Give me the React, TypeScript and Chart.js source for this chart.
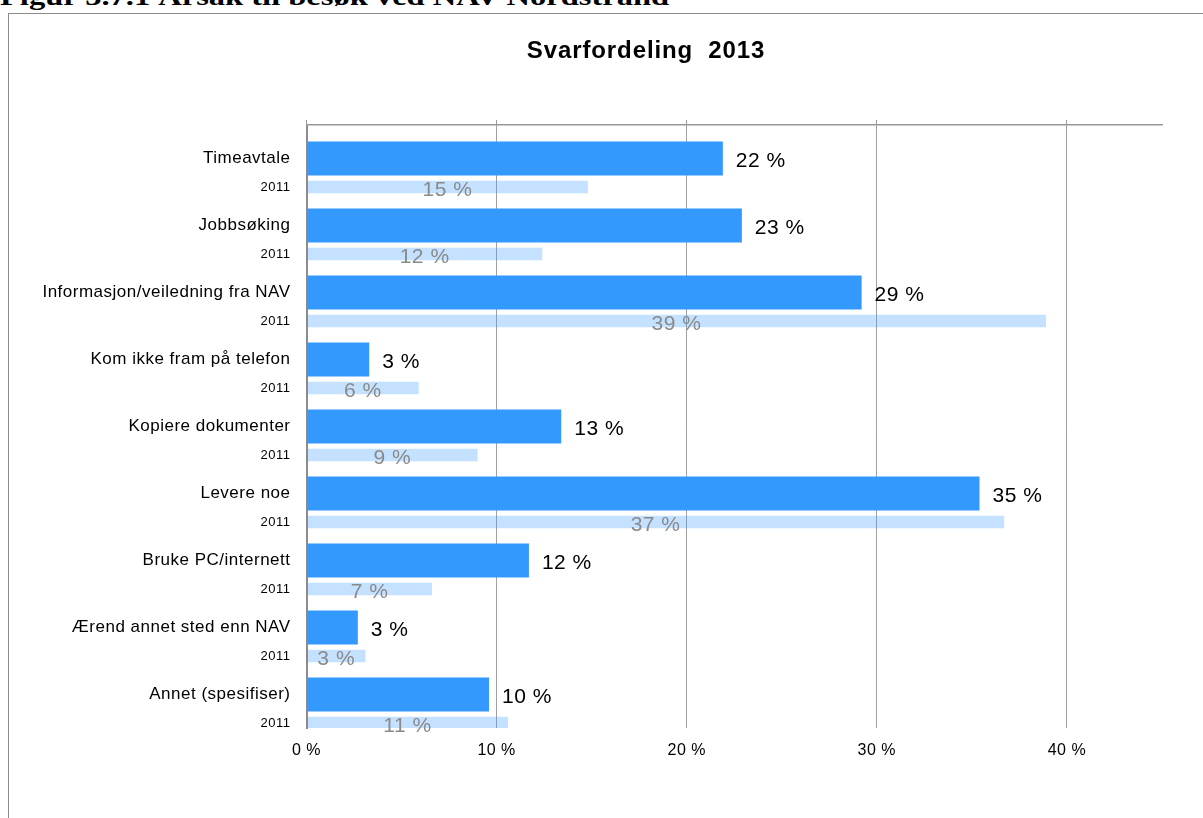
import React, { useEffect, useRef } from "react";
import { Chart, registerables } from "chart.js";

Chart.register(...registerables);

// ---- data ----
const categories = [
  "Timeavtale",
  "Jobbsøking",
  "Informasjon/veiledning fra NAV",
  "Kom ikke fram på telefon",
  "Kopiere dokumenter",
  "Levere noe",
  "Bruke PC/internett",
  "Ærend annet sted enn NAV",
  "Annet (spesifiser)",
];
const values2013 = [21.9, 22.9, 29.2, 3.3, 13.4, 35.4, 11.7, 2.7, 9.6];
const values2011 = [14.8, 12.4, 38.9, 5.9, 9.0, 36.7, 6.6, 3.1, 10.6];
const compareLabel = "2011";
const chartTitle = "Svarfordeling  2013";
const figureCaption = "Figur 3.7.1 Årsak til besøk ved NAV Nordstrand";
const axisMin = 0;
const axisMax = 45;
const axisStep = 10;

const FONT = "'Liberation Sans', Arial, Helvetica, sans-serif";
const SPACING = "0.5px";

const fmt = (v: number) => `${Math.round(v)} %`;

const spacingPlugin = {
  id: "letterSpacing",
  beforeUpdate(chart: any) {
    chart.ctx.letterSpacing = SPACING;
  },
  beforeDraw(chart: any) {
    chart.ctx.letterSpacing = SPACING;
  },
};

const labelPlugin = {
  id: "barLabels",
  afterDatasetsDraw(chart: any) {
    const ctx = chart.ctx as CanvasRenderingContext2D;
    const dark = chart.getDatasetMeta(1);
    const light = chart.getDatasetMeta(2);
    ctx.save();
    (ctx as any).letterSpacing = SPACING;
    ctx.textBaseline = "middle";
    dark.data.forEach((bar: any, i: number) => {
      ctx.font = `21px ${FONT}`;
      ctx.fillStyle = "#000000";
      ctx.textAlign = "left";
      ctx.fillText(fmt(values2013[i]), bar.x + 13, bar.y + 3);
    });
    light.data.forEach((bar: any, i: number) => {
      ctx.font = `21px ${FONT}`;
      ctx.fillStyle = "#8a8a8a";
      ctx.textAlign = "center";
      ctx.fillText(fmt(values2011[i]), (bar.x + bar.base) / 2, bar.y + 3);
      ctx.font = `13px ${FONT}`;
      ctx.fillStyle = "#000000";
      ctx.textAlign = "right";
      ctx.fillText(compareLabel, chart.chartArea.left - 16, bar.y);
    });
    ctx.restore();
  },
};

function BarChart() {
  const ref = useRef<HTMLCanvasElement | null>(null);
  useEffect(() => {
    if (!ref.current) return;
    const chart = new Chart(ref.current, {
      type: "bar",
      data: {
        labels: categories,
        datasets: [
          {
            label: "spacer",
            data: categories.map(() => null),
            backgroundColor: "rgba(0,0,0,0)",
            categoryPercentage: 1.276,
            barPercentage: 1,
          },
          {
            label: "2013",
            data: values2013,
            backgroundColor: "#3399ff",
            borderWidth: 0,
            categoryPercentage: 1.276,
            barPercentage: 1.19,
          },
          {
            label: "2011",
            data: values2011,
            backgroundColor: "rgba(51,153,255,0.29)",
            borderWidth: 0,
            categoryPercentage: 1.276,
            barPercentage: 0.44,
          },
        ] as any,
      },
      options: {
        indexAxis: "y",
        animation: false,
        responsive: false,
        devicePixelRatio: 1,
        layout: { padding: { left: 0, right: 41, top: 0, bottom: 0 } },
        plugins: {
          legend: { display: false },
          tooltip: { enabled: false },
          title: { display: false },
        },
        scales: {
          y: {
            type: "category",
            offset: true,
            grid: { display: false, drawTicks: false },
            border: { display: true, color: "#8c8c8c", width: 2 },
            ticks: {
              color: "#000000",
              padding: 16,
              font: { family: FONT, size: 17 },
            },
            afterFit: (s: any) => {
              s.width = 306.5;
            },
          },
          x: {
            type: "linear",
            position: "bottom",
            min: axisMin,
            max: axisMax,
            grid: { color: "#a0a0a0", lineWidth: 1, drawTicks: false },
            border: { display: false },
            ticks: {
              stepSize: axisStep,
              includeBounds: false,
              color: "#000000",
              padding: 13,
              font: { family: FONT, size: 16 },
              callback: (v: any) => `${v} %`,
            },
            afterFit: (s: any) => {
              s.height = 90;
            },
          },
          x2: {
            type: "linear",
            position: "top",
            min: axisMin,
            max: axisMax,
            grid: {
              drawOnChartArea: false,
              drawTicks: true,
              tickLength: 5,
              color: "#999999",
            },
            border: { display: true, color: "#999999", width: 1.5 },
            ticks: { display: false, stepSize: axisStep, includeBounds: false },
            afterFit: (s: any) => {
              s.height = 125;
            },
          },
        },
      } as any,
      plugins: [spacingPlugin, labelPlugin],
    });
    return () => chart.destroy();
  }, []);
  return (
    <canvas
      ref={ref}
      width={1203}
      height={818}
      style={{ position: "absolute", left: 0, top: 0, width: 1203, height: 818 }}
    />
  );
}

export default function App() {
  return (
    <div
      style={{
        position: "absolute",
        left: 0,
        top: 0,
        width: 1203,
        height: 818,
        overflow: "hidden",
        background: "#ffffff",
      }}
    >
      <div
        style={{
          position: "absolute",
          left: 0,
          top: -16,
          whiteSpace: "nowrap",
          fontFamily: "'Liberation Serif', 'Times New Roman', serif",
          fontWeight: "bold",
          fontSize: 26,
          lineHeight: "26px",
          transform: "scaleX(1.25)",
          transformOrigin: "left top",
          color: "#000",
        }}
      >
        {figureCaption}
      </div>
      <div
        style={{
          position: "absolute",
          left: 8,
          top: 13,
          width: 1400,
          height: 1000,
          border: "1px solid #8c8c8c",
        }}
      />
      <BarChart />
      <div
        style={{
          position: "absolute",
          left: 46,
          top: 38,
          width: 1200,
          textAlign: "center",
          fontFamily: FONT,
          fontWeight: "bold",
          fontSize: 24,
          lineHeight: "24px",
          letterSpacing: "0.9px",
          color: "#000",
          whiteSpace: "pre",
        }}
      >
        {chartTitle}
      </div>
    </div>
  );
}
